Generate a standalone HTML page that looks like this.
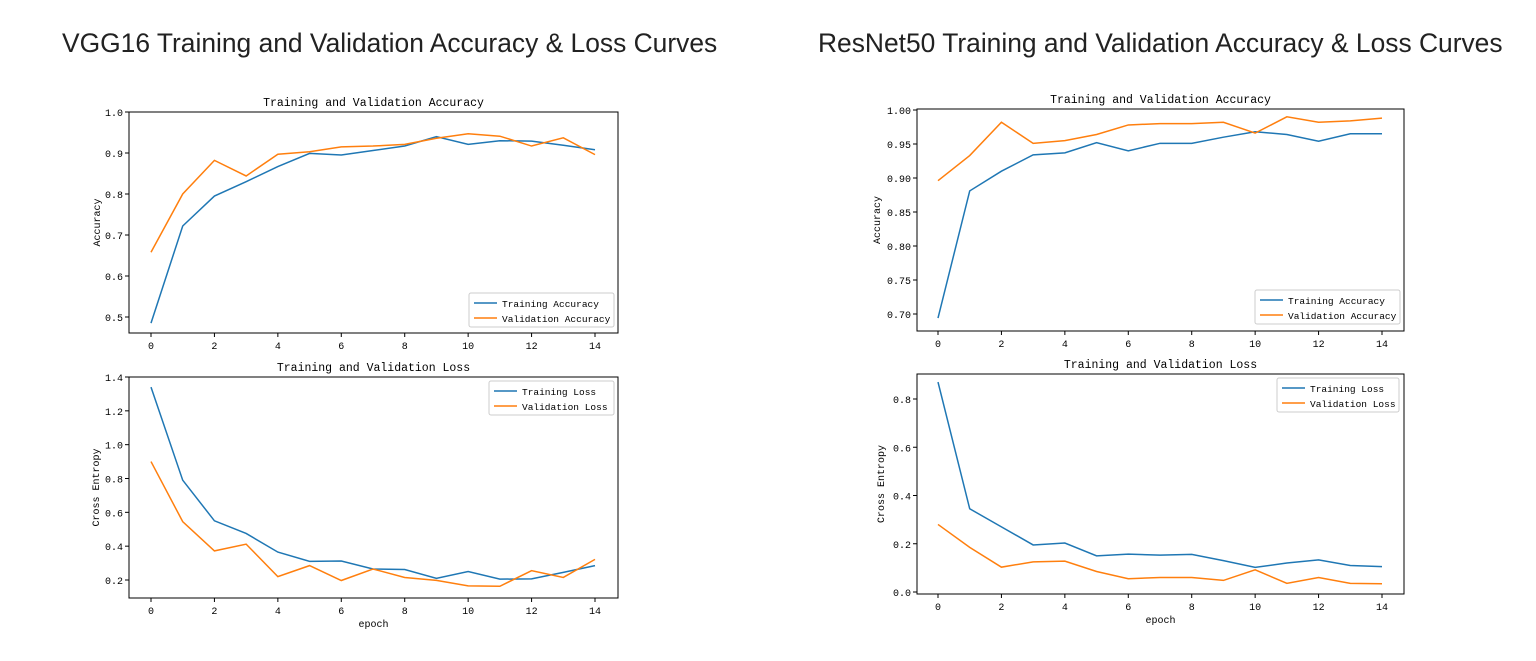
<!DOCTYPE html>
<html><head><meta charset="utf-8"><style>
body{margin:0;background:#fff;width:1536px;height:661px;overflow:hidden;font-family:"Liberation Sans","Noto Sans CJK SC",sans-serif}
.big{position:absolute;top:28px;font-size:26.4px;color:#222;white-space:nowrap}
</style></head><body>
<div class="big" style="left:62px">VGG16 Training and Validation Accuracy &amp; Loss Curves</div>
<div class="big" style="left:818px">ResNet50 Training and Validation Accuracy &amp; Loss Curves</div>
<svg id="s" width="1536" height="661" style="position:absolute;left:0;top:0"></svg>
<script>
const epochs=[0,1,2,3,4,5,6,7,8,9,10,11,12,13,14];
const xTicks=[0,2,4,6,8,10,12,14];
const vggAccTrain=[.485,.722,.795,.83,.867,.899,.895,.906,.917,.940,.921,.930,.929,.919,.908];
const vggAccVal=[.658,.800,.882,.844,.897,.903,.915,.917,.921,.936,.947,.941,.917,.937,.896];
const vggLossTrain=[1.34,.79,.55,.475,.365,.31,.312,.265,.262,.21,.25,.205,.207,.245,.285];
const vggLossVal=[.90,.545,.372,.412,.22,.285,.197,.265,.215,.198,.165,.163,.255,.215,.322];
const resAccTrain=[.694,.881,.91,.934,.937,.952,.940,.951,.951,.960,.968,.964,.954,.965,.965];
const resAccVal=[.896,.933,.982,.951,.955,.964,.978,.980,.980,.982,.966,.990,.982,.984,.988];
const resLossTrain=[.87,.345,.27,.195,.203,.15,.157,.153,.156,.13,.102,.12,.133,.11,.105];
const resLossVal=[.28,.185,.103,.125,.128,.085,.055,.06,.06,.048,.092,.036,.06,.036,.034];
const vggAccTicks=[0.5,0.6,0.7,0.8,0.9,1.0];
const vggLossTicks=[0.2,0.4,0.6,0.8,1.0,1.2,1.4];
const resAccTicks=[0.70,0.75,0.80,0.85,0.90,0.95,1.00];
const resLossTicks=[0.0,0.2,0.4,0.6,0.8];
const NS="http://www.w3.org/2000/svg",svg=document.getElementById('s');
function mk(t,a,p){const e=document.createElementNS(NS,t);for(const k in a)e.setAttribute(k,a[k]);(p||svg).appendChild(e);return e;}
function plot(o){
 const g=mk('g',{});
 
 
 const X=v=>o.x0+(v-0)*(o.x14-o.x0)/14;
 const Y=v=>o.ya+(v-o.va)*(o.yb-o.ya)/(o.vb-o.va);
 const tt=mk('text',{x:(o.L+o.R)/2,y:o.T-6,'text-anchor':'middle','font-size':11.5,'font-family':'Liberation Mono, monospace',fill:'#000'},g);tt.textContent=o.title;
 
 xTicks.forEach(v=>{mk('line',{x1:X(v),x2:X(v),y1:o.B,y2:o.B+4,stroke:'#000'},g);const t=mk('text',{x:X(v),y:o.B+16,'text-anchor':'middle','font-size':10,'font-family':'Liberation Mono, monospace'},g);t.textContent=v;
  });
 o.yt.forEach(v=>{mk('line',{x1:o.L-4,x2:o.L,y1:Y(v),y2:Y(v),stroke:'#000'},g);const t=mk('text',{x:o.L-6,y:Y(v)+4,'text-anchor':'end','font-size':10,'font-family':'Liberation Mono, monospace'},g);t.textContent=v.toFixed(o.dec);
  });
 const yl=mk('text',{x:0,y:0,'text-anchor':'middle','font-size':10,'font-family':'Liberation Mono, monospace',transform:`translate(${o.ylx},${(o.T+o.B)/2}) rotate(-90)`},g);yl.textContent=o.ylabel;
 
 if(o.xlabel){const xl=mk('text',{x:(o.L+o.R)/2,y:o.B+29,'text-anchor':'middle','font-size':10,'font-family':'Liberation Mono, monospace'},g);xl.textContent=o.xlabel;
  }
 [[o.s1,'#1f77b4'],[o.s2,'#ff7f0e']].forEach(([d,c],i)=>{const p=mk('polyline',{points:d.map((v,j)=>X(epochs[j])+','+Y(v)).join(' '),fill:'none',stroke:c,'stroke-width':1.5},g);
  });
 mk('rect',{x:o.L,y:o.T,width:o.R-o.L,height:o.B-o.T,fill:'none',stroke:'#000','stroke-width':1},g);
 const lg=mk('g',{},g);
 mk('rect',{x:o.lx,y:o.ly,width:o.lw,height:34,fill:'#fff',stroke:'#ccc',rx:2},lg);
 [[o.l1,'#1f77b4'],[o.l2,'#ff7f0e']].forEach(([s,c],i)=>{const yy=o.ly+10+i*15;mk('line',{x1:o.lx+5,x2:o.lx+28,y1:yy,y2:yy,stroke:c,'stroke-width':1.5},lg);
  const t=mk('text',{x:o.lx+33,y:yy+4,'font-size':9.5,'font-family':'Liberation Mono, monospace'},lg);t.textContent=s;
  });
}
plot({name:'vgg16-accuracy-chart',title:'Training and Validation Accuracy',L:129,R:618,T:112,B:333,x0:151,x14:595,va:1.0,ya:112,vb:0.5,yb:317,yt:vggAccTicks,dec:1,ylabel:'Accuracy',ylx:100,s1:vggAccTrain,s2:vggAccVal,lx:469,ly:293,lw:145,l1:'Training Accuracy',l2:'Validation Accuracy'});
plot({name:'vgg16-loss-chart',title:'Training and Validation Loss',L:129,R:618,T:377,B:598,x0:151,x14:595,va:1.4,ya:377,vb:0.2,yb:580,yt:vggLossTicks,dec:1,ylabel:'Cross Entropy',ylx:99,xlabel:'epoch',s1:vggLossTrain,s2:vggLossVal,lx:489,ly:381,lw:125,l1:'Training Loss',l2:'Validation Loss'});
plot({name:'resnet50-accuracy-chart',title:'Training and Validation Accuracy',L:917,R:1404,T:109,B:331,x0:938,x14:1382,va:1.0,ya:110,vb:0.7,yb:314,yt:resAccTicks,dec:2,ylabel:'Accuracy',ylx:880,s1:resAccTrain,s2:resAccVal,lx:1255,ly:290,lw:145,l1:'Training Accuracy',l2:'Validation Accuracy'});
plot({name:'resnet50-loss-chart',title:'Training and Validation Loss',L:917,R:1404,T:374,B:594,x0:938,x14:1382,va:0.8,ya:399,vb:0.0,yb:592,yt:resLossTicks,dec:1,ylabel:'Cross Entropy',ylx:884,xlabel:'epoch',s1:resLossTrain,s2:resLossVal,lx:1277,ly:378,lw:122,l1:'Training Loss',l2:'Validation Loss'});
</script>
</body></html>
